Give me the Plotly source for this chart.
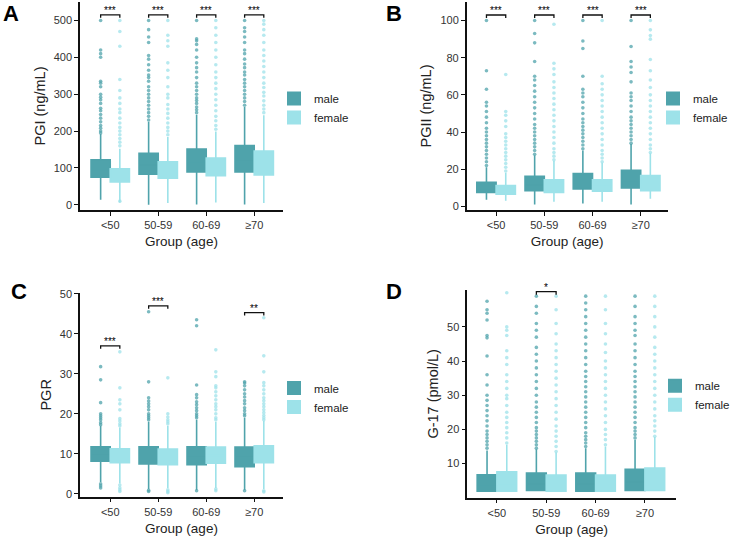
import plotly.graph_objects as go

groups = ["<50", "50-59", "60-69", "≥70"]
sexes = ["male", "female"]

# ---------------- Panel A: PGI (ng/mL) ----------------
pgi_male_q1 = [75, 83, 89, 89]
pgi_male_med = [95, 108, 117, 122]
pgi_male_q3 = [122, 140, 151, 161]
pgi_male_lo = [14, 0, 1, 1]
pgi_male_hi = [192, 225, 244, 265]
pgi_female_q1 = [62, 72, 79, 81]
pgi_female_med = [78, 92, 100, 110]
pgi_female_q3 = [98, 117, 127, 146]
pgi_female_lo = [6, 5, 6, 5]
pgi_female_hi = [152, 184, 199, 243]
pgi_male_out = [
    [195, 200, 208, 215, 225, 235, 245, 255, 262, 275, 285, 292, 300, 320, 330, 335, 400, 410, 420, 500],
    [230, 240, 250, 260, 270, 280, 290, 300, 310, 320, 335, 345, 352, 365, 380, 395, 405, 440, 455, 475, 500],
    [250, 258, 265, 275, 283, 290, 300, 310, 320, 330, 345, 360, 372, 385, 400, 420, 435, 445, 450, 500],
    [270, 280, 290, 300, 310, 320, 330, 340, 352, 360, 372, 382, 395, 410, 420, 440, 455, 470, 480, 500],
]
pgi_female_out = [
    [10, 160, 170, 180, 190, 200, 210, 222, 235, 250, 260, 275, 290, 310, 340, 430, 470, 500],
    [190, 200, 210, 222, 235, 248, 260, 272, 290, 300, 320, 345, 365, 385, 430, 445, 460, 500],
    [205, 215, 228, 240, 255, 270, 285, 300, 315, 330, 345, 360, 380, 400, 420, 440, 460, 480, 500],
    [250, 260, 270, 282, 295, 305, 318, 330, 345, 360, 375, 390, 405, 420, 440, 460, 475, 490, 500],
]
pgi_sig = ["***", "***", "***", "***"]
pgi_sig_h = [515, 515, 515, 515]

# ---------------- Panel B: PGII (ng/mL) ----------------
pgii_male_q1 = [7.5, 8.4, 9.3, 9.9]
pgii_male_med = [9.5, 11.5, 12.8, 13.8]
pgii_male_q3 = [12.9, 16.1, 17.6, 19.4]
pgii_male_lo = [3.5, 1, 1.5, 1]
pgii_male_hi = [21, 27.5, 30, 33.5]
pgii_female_q1 = [6.5, 7.5, 8.1, 8.4]
pgii_female_med = [8.3, 10, 10.6, 11.6]
pgii_female_q3 = [11.1, 14.3, 14.3, 16.5]
pgii_female_lo = [3, 2.5, 2.5, 4]
pgii_female_hi = [18, 24.5, 23.5, 28.5]
pgii_male_out = [
    [22, 24, 26, 28, 30, 32, 34, 36, 38, 40, 42, 45, 48, 51, 54, 56, 63, 73, 100],
    [28, 30, 32, 34, 36, 38, 40, 42, 44, 47, 50, 53, 56, 59, 62, 65, 68, 70, 78, 88, 93, 100],
    [31, 33, 35, 37, 39, 41, 43, 45, 47, 50, 53, 56, 59, 61, 63, 70, 85, 89, 100],
    [34, 36, 38, 40, 42, 44, 46, 48, 51, 54, 57, 59, 61, 67, 72, 75, 78, 86, 100],
]
pgii_female_out = [
    [19, 21, 23, 25, 27, 29, 31, 33, 35, 37, 39, 43, 46, 49, 51, 71],
    [25, 27, 29, 31, 34, 37, 40, 43, 46, 49, 52, 55, 58, 61, 64, 67, 71, 74, 77, 98],
    [24, 26, 28, 30, 33, 36, 39, 42, 45, 48, 51, 54, 57, 60, 63, 66, 70, 100],
    [29, 31, 33, 36, 39, 42, 45, 48, 51, 54, 57, 60, 64, 68, 73, 79, 90, 92, 95, 100],
]
pgii_sig = ["***", "***", "***", "***"]
pgii_sig_h = [103, 103, 103, 103]

# ---------------- Panel C: PGR ----------------
pgr_male_q1 = [8.2, 7.5, 7.3, 6.8]
pgr_male_med = [10, 9.6, 9.5, 9.2]
pgr_male_q3 = [11.8, 11.8, 11.8, 11.7]
pgr_male_lo = [3, 1.2, 1, 1]
pgr_male_hi = [17, 18, 18.5, 19]
pgr_female_q1 = [7.8, 7.3, 7.7, 7.8]
pgr_female_med = [9.5, 9.2, 9.6, 9.8]
pgr_female_q3 = [11.3, 11.2, 11.7, 12]
pgr_female_lo = [2.6, 1.5, 1.5, 1.2]
pgr_female_hi = [16.6, 17, 18, 18.3]
pgr_male_out = [
    [1.5, 2.0, 2.5, 17.3, 17.8, 18.5, 19, 19.5, 20, 22.8, 28.5, 31.8],
    [0.6, 0.9, 18.5, 19, 19.5, 20, 21, 21.8, 22.5, 23.2, 24, 28, 45.5],
    [0.8, 19, 19.5, 20, 20.8, 21.5, 22.3, 23, 24, 24.8, 27.2, 42, 43.5],
    [0.8, 19.5, 20, 20.8, 21.5, 22.5, 23.3, 24.2, 25, 26, 27, 27.7, 28],
]
pgr_female_out = [
    [0.6, 1.0, 1.5, 2.2, 17, 17.5, 18.2, 18.8, 21, 22.5, 23.5, 26.5, 35.5],
    [0.3, 0.6, 1.0, 17.5, 18, 18.5, 19.2, 20, 29],
    [0.8, 1.2, 18.5, 19, 20, 21, 21.8, 22.5, 23.5, 24.5, 25.5, 26.5, 27, 29.3, 30.5, 36],
    [0.5, 0.8, 18.5, 19, 19.6, 20.3, 21, 21.8, 22.5, 23.3, 24, 25, 26, 27, 27.8, 30.5, 34.5, 44],
]
pgr_sig = ["***", "***", None, "**"]
pgr_sig_h = [37, 47, None, 45.3]

# ---------------- Panel D: G-17 (pmol/L) ----------------
g17_male_q1 = [1.9, 2.1, 1.9, 2.1]
g17_male_med = [3.8, 4.0, 4.0, 4.6]
g17_male_q3 = [6.7, 7.2, 7.2, 8.3]
g17_male_lo = [1.9, 2.1, 1.9, 2.1]
g17_male_hi = [13.8, 14.2, 14.5, 17]
g17_female_q1 = [1.9, 1.9, 1.9, 2.1]
g17_female_med = [4.2, 3.8, 3.8, 4.8]
g17_female_q3 = [7.6, 6.6, 6.6, 8.7]
g17_female_lo = [1.9, 1.9, 1.9, 2.1]
g17_female_hi = [15.5, 13.2, 15, 17.8]
g17_male_out = [
    [14.5, 15.5, 16.5, 17.5, 18.5, 19.5, 21, 22.5, 24, 25.5, 27, 28.5, 30, 33, 36, 41.5, 46.8, 47.5, 52, 54, 55, 57.5],
    [14.5, 15.5, 16.5, 17.5, 18.5, 19.5, 20.5, 22, 23.5, 25, 26.5, 28, 30, 32, 34, 36, 38, 40, 42, 44, 47, 49, 51, 54, 56, 59],
    [15, 16, 17, 18, 19, 20.5, 22, 23.5, 25, 26.5, 28, 29.5, 31, 32.5, 34, 35.5, 37, 39, 41, 43, 45, 47, 49, 51, 53, 55, 57, 59],
    [17.5, 18.5, 19.5, 20.5, 22, 23.5, 25, 26.5, 28, 29.5, 31, 32.5, 34, 35.5, 37, 39, 41, 43, 45, 47.5, 49, 51, 53, 56, 59],
]
g17_female_out = [
    [16, 17.5, 19, 20.5, 22, 23.5, 25, 27, 29, 30, 32, 34, 36, 39, 41, 43, 47.5, 49, 50, 60],
    [13.5, 15, 16.5, 18, 19.5, 21, 23, 25, 27, 29, 31, 33, 35, 37, 39, 41, 43, 45, 48, 51, 55, 59],
    [15.5, 17, 18.5, 20, 22, 24, 26, 28, 30, 32, 34, 36, 38, 40, 42.5, 45, 48, 51, 55, 59],
    [18, 19.5, 21, 22.5, 24, 26, 28, 30, 32, 34, 36, 38, 40, 42, 44, 47, 50, 53, 56, 59],
]
g17_sig = [None, "*", None, None]
g17_sig_h = [None, 60.3, None, None]

# ---------------- styling / layout ----------------
MALE = "#4fa3ab"
FEMALE = "#9de2e9"
FONT = "Liberation Sans, Arial, sans-serif"
W, H = 735, 537

panels = [
    dict(label="A", title="PGI (ng/mL)", xa="x", ya="y", leg="legend",
         xdom=(80, 283), ydom=(2, 210), xr=(-0.63, 3.6), yr=(-14, 550),
         ytv=[0, 100, 200, 300, 400, 500], tick=8,
         stats=(pgi_male_q1, pgi_male_med, pgi_male_q3, pgi_male_lo, pgi_male_hi,
                pgi_female_q1, pgi_female_med, pgi_female_q3, pgi_female_lo, pgi_female_hi),
         out=(pgi_male_out, pgi_female_out), sig=pgi_sig, sigh=pgi_sig_h,
         lab=(11, 14), legpos=(274, 108, "left")),
    dict(label="B", title="PGII (ng/mL)", xa="x2", ya="y2", leg="legend2",
         xdom=(466.7, 667.7), ydom=(2, 210), xr=(-0.61, 3.56), yr=(-2, 110),
         ytv=[0, 20, 40, 60, 80, 100], tick=1.6,
         stats=(pgii_male_q1, pgii_male_med, pgii_male_q3, pgii_male_lo, pgii_male_hi,
                pgii_female_q1, pgii_female_med, pgii_female_q3, pgii_female_lo, pgii_female_hi),
         out=(pgii_male_out, pgii_female_out), sig=pgii_sig, sigh=pgii_sig_h,
         lab=(394, 14), legpos=(733, 108, "right")),
    dict(label="C", title="PGR", xa="x3", ya="y3", leg="legend3",
         xdom=(80, 283), ydom=(293, 496.7), xr=(-0.63, 3.6), yr=(-0.7, 50.2),
         ytv=[0, 10, 20, 30, 40, 50], tick=0.75,
         stats=(pgr_male_q1, pgr_male_med, pgr_male_q3, pgr_male_lo, pgr_male_hi,
                pgr_female_q1, pgr_female_med, pgr_female_q3, pgr_female_lo, pgr_female_hi),
         out=(pgr_male_out, pgr_female_out), sig=pgr_sig, sigh=pgr_sig_h,
         lab=(19, 291), legpos=(274, 397.5, "left")),
    dict(label="D", title="G-17 (pmol/L)", xa="x4", ya="y4", leg="legend4",
         xdom=(467.3, 676), ydom=(290, 497.7), xr=(-0.6, 3.63), yr=(0, 60.8),
         ytv=[10, 20, 30, 40, 50], tick=0.9,
         stats=(g17_male_q1, g17_male_med, g17_male_q3, g17_male_lo, g17_male_hi,
                g17_female_q1, g17_female_med, g17_female_q3, g17_female_lo, g17_female_hi),
         out=(g17_male_out, g17_female_out), sig=g17_sig, sigh=g17_sig_h,
         lab=(394, 291), legpos=(735, 395.3, "right")),
]

OFF = 0.2
fig = go.Figure()
annotations = []
layout = dict(
    width=W, height=H,
    margin=dict(l=0, r=0, t=0, b=0, autoexpand=False),
    paper_bgcolor="white", plot_bgcolor="white",
    font=dict(family=FONT, color="#222"),
    showlegend=True,
)

for p in panels:
    s = p["stats"]
    for k, (sex, col, off) in enumerate([("male", MALE, -OFF), ("female", FEMALE, OFF)]):
        q1, med, q3, lo, hi = s[5 * k: 5 * k + 5]
        fig.add_trace(go.Box(
            x=[g + off for g in range(len(groups))],
            q1=q1, median=med, q3=q3, lowerfence=lo, upperfence=hi,
            width=0.4, whiskerwidth=0, fillcolor=col,
            line=dict(color=col, width=1.6), name=sex,
            legend=p["leg"], showlegend=True, boxpoints=False,
            xaxis=p["xa"], yaxis=p["ya"], hoverinfo="skip",
        ))
    for k, (col, off) in enumerate([(MALE, -OFF), (FEMALE, OFF)]):
        xs, ys = [], []
        for g, vals in enumerate(p["out"][k]):
            xs += [g + off] * len(vals)
            ys += vals
        fig.add_trace(go.Scatter(
            x=xs, y=ys, mode="markers", showlegend=False,
            marker=dict(color=col, size=3.6, opacity=0.75, line=dict(width=0)),
            xaxis=p["xa"], yaxis=p["ya"], hoverinfo="skip", cliponaxis=False,
        ))
    # significance brackets
    bx, by = [], []
    for g, (txt, h) in enumerate(zip(p["sig"], p["sigh"])):
        if txt is None:
            continue
        bx += [g - OFF, g - OFF, g + OFF, g + OFF, None]
        by += [h - p["tick"], h, h, h - p["tick"], None]
        annotations.append(dict(
            x=g, y=h, xref=p["xa"], yref=p["ya"], text=txt, showarrow=False,
            yanchor="bottom", yshift=-3, font=dict(size=10, color="#000", family=FONT),
        ))
    fig.add_trace(go.Scatter(
        x=bx, y=by, mode="lines", showlegend=False, cliponaxis=False,
        line=dict(color="#111", width=1.3), xaxis=p["xa"], yaxis=p["ya"], hoverinfo="skip",
    ))
    # axes
    axn = p["xa"].replace("x", "")
    xkey, ykey = "xaxis" + axn, "yaxis" + axn
    common = dict(showline=True, linecolor="#111", linewidth=1.5, ticks="outside",
                  ticklen=4, tickwidth=1.2, tickcolor="#111", showgrid=False,
                  zeroline=False, tickfont=dict(size=11, color="#333", family=FONT))
    layout[xkey] = dict(
        domain=[p["xdom"][0] / W, p["xdom"][1] / W], range=list(p["xr"]),
        tickvals=list(range(len(groups))), ticktext=groups, anchor=p["ya"],
        title=dict(text="Group (age)", font=dict(size=13.5, color="#222"), standoff=7),
        **common)
    layout[ykey] = dict(
        domain=[1 - p["ydom"][1] / H, 1 - p["ydom"][0] / H], range=list(p["yr"]),
        tickvals=p["ytv"], anchor=p["xa"],
        title=dict(text=p["title"], font=dict(size=14.5, color="#222"), standoff=5),
        **common)
    layout[p["leg"]] = dict(
        x=p["legpos"][0] / W, y=1 - p["legpos"][1] / H, xanchor=p["legpos"][2], yanchor="middle",
        font=dict(size=11.5, color="#222", family=FONT), bgcolor="rgba(0,0,0,0)",
        tracegroupgap=0, itemsizing="constant")
    annotations.append(dict(
        x=p["lab"][0] / W, y=1 - p["lab"][1] / H, xref="paper", yref="paper",
        text="<b>%s</b>" % p["label"], showarrow=False, xanchor="center", yanchor="middle",
        font=dict(size=22, color="#000", family=FONT)))

layout["annotations"] = annotations
fig.update_layout(**layout)
fig.write_html("out.html")
